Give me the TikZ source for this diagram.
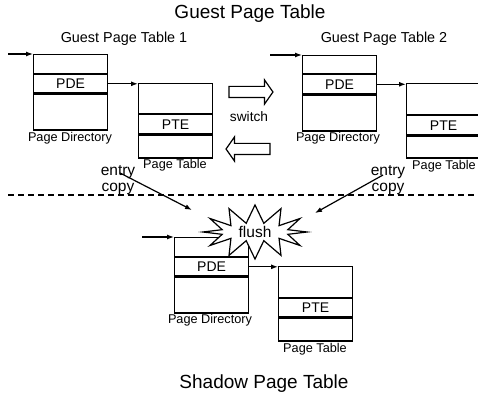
\documentclass[tikz,border=0pt]{standalone}
\usepackage{fontspec}
\setmainfont{Liberation Sans}
\usetikzlibrary{positioning,arrows.meta,shapes.symbols,shapes.arrows}

\begin{document}
\begin{tikzpicture}[x=1pt,y=-1pt,line width=1.2pt,
  >={Latex[length=7pt,width=5pt]},
  cell/.style={draw,minimum width=74pt,inner sep=0pt,font=\fontsize{14}{14}\selectfont},
  lbl/.style={anchor=base,inner sep=0pt,font=\fontsize{12.7}{13}\selectfont},
  headline/.style={anchor=base,inner sep=0pt,font=\fontsize{19}{20}\selectfont},
  subhead/.style={anchor=base,inner sep=0pt,font=\fontsize{14.4}{15}\selectfont},
  note/.style={anchor=base,inner sep=0pt,align=center,font=\fontsize{15.5}{17}\selectfont},
  swarrow/.style={draw,single arrow,minimum height=44pt,inner sep=0pt,
    single arrow head extend=6.5pt,single arrow tip angle=110},
  burst/.style={draw,fill=white,starburst,starburst points=12,starburst point height=18pt,
    random starburst=0,minimum width=104pt,minimum height=54pt,inner sep=0pt,
    font=\fontsize{15.5}{17}\selectfont}]
  \clip (0,0) rectangle (478,395);

  \node[headline] (gtitle) at (250,19) {Guest Page Table};
  \node[subhead] (g1title) at (124,43) {Guest Page Table 1};
  \node[subhead] (g2title) at (384,43) {Guest Page Table 2};

  % guest page table 1
  \coordinate (in1) at (8,54);
  \node[cell,minimum height=19pt,anchor=north west] (pd1top) at (33,54) {};
  \node[cell,minimum height=18pt,below=0pt of pd1top] (pd1pde) {PDE};
  \node[cell,minimum height=36pt,below=0pt of pd1pde] (pd1bot) {};
  \node[lbl] (pd1lbl) at (70,142) {Page Directory};
  \node[cell,minimum height=30pt,anchor=north west] (pt1top) at (138,83) {};
  \node[cell,minimum height=19pt,below=0pt of pt1top] (pt1pte) {PTE};
  \node[cell,minimum height=23pt,below=0pt of pt1pte] (pt1bot) {};
  \node[lbl] (pt1lbl) at (175,169) {Page Table};
  \draw[->] (in1) -- (pd1top.north west);
  \draw[->] (pd1pde.east) -- (pd1pde.east -| pt1top.west);

  % guest page table 2
  \coordinate (in2) at (270,55);
  \node[cell,minimum height=18pt,anchor=north west] (pd2top) at (302,55) {};
  \node[cell,minimum height=19pt,below=0pt of pd2top] (pd2pde) {PDE};
  \node[cell,minimum height=36pt,below=0pt of pd2pde] (pd2bot) {};
  \node[lbl] (pd2lbl) at (338,142) {Page Directory};
  \node[cell,minimum height=31pt,anchor=north west] (pt2top) at (406,83) {};
  \node[cell,minimum height=19pt,below=0pt of pt2top] (pt2pte) {PTE};
  \node[cell,minimum height=22pt,below=0pt of pt2pte] (pt2bot) {};
  \node[lbl] (pt2lbl) at (444,170) {Page Table};
  \draw[->] (in2) -- (pd2top.north west);
  \draw[->] (pd2pde.east) -- (pd2pde.east -| pt2top.west);

  % switch
  \node[swarrow] (swright) at (249,92) {\rule{0pt}{10pt}};
  \node[swarrow,shape border rotate=180] (swleft) at (250,149) {\rule{0pt}{10pt}};
  \node[lbl,font=\fontsize{13.7}{14}\selectfont] (switch) at (249,122) {switch};

  % separation
  \coordinate (dash0) at (8,195);
  \coordinate (dash1) at (478,195);
  \draw[dash pattern=on 6pt off 4pt] (dash0) -- (dash1);
  \node[note] (copyl) at (118,192) {entry\\copy};
  \node[note] (copyr) at (388,192) {entry\\copy};
  \coordinate (cpl0) at (120,173);
  \coordinate (cpl1) at (192,210);
  \coordinate (cpr0) at (383,175);
  \coordinate (cpr1) at (315,213);
  \draw[->] (cpl0) -- (cpl1);
  \draw[->] (cpr0) -- (cpr1);

  % shadow page table
  \coordinate (in3) at (142,237);
  \node[cell,minimum height=19pt,anchor=north west] (sdtop) at (174,237) {};
  \node[cell,minimum height=18pt,below=0pt of sdtop] (sdpde) {PDE};
  \node[cell,minimum height=36pt,below=0pt of sdpde] (sdbot) {};
  \node[lbl] (sdlbl) at (210,323) {Page Directory};
  \node[cell,minimum height=31pt,anchor=north west] (sttop) at (278,266) {};
  \node[cell,minimum height=18pt,below=0pt of sttop] (stpte) {PTE};
  \node[cell,minimum height=23pt,below=0pt of stpte] (stbot) {};
  \node[lbl] (stlbl) at (315,352) {Page Table};
  \draw[->] (in3) -- (sdtop.north west);
  \draw[->] (sdpde.east) -- (sdpde.east -| sttop.west);

  \node[burst] (flush) at (255,232) {flush};

  \node[headline] (stitle) at (264,388) {Shadow Page Table};
\end{tikzpicture}
\end{document}
